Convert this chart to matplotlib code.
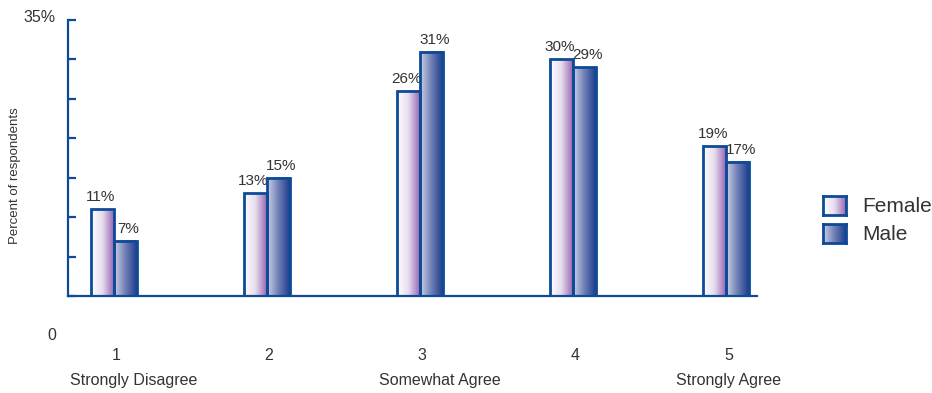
import numpy as np
import matplotlib.pyplot as plt
from matplotlib.colors import LinearSegmentedColormap

plt.rcParams['font.family'] = ['Liberation Sans', 'DejaVu Sans']

# survey responses, percent of respondents per answer
answers = [1, 2, 3, 4, 5]
answer_notes = {1: "Strongly Disagree", 3: "Somewhat Agree", 5: "Strongly Agree"}
female = [11, 13, 26, 30, 19]
male = [7, 15, 31, 29, 17]

navy = "#0d4a97"
text_col = "#333333"
female_cmap = LinearSegmentedColormap.from_list("fem", ["#ffffff", "#e6dcee", "#9866b2"])
male_cmap = LinearSegmentedColormap.from_list("mal", ["#cfd3e6", "#6f7fb5", "#1d3c8c"])
ramp = np.linspace(0, 1, 256).reshape(1, -1)

W, H = 932, 393
fig = plt.figure(figsize=(W / 100, H / 100), dpi=100)
ax = fig.add_axes([68 / W, 1 - 296 / H, (757 - 68) / W, (296 - 20) / H])

bar_w = 0.15


def gradient_bars(xs, heights, cmap, nudge):
    for x, h in zip(xs, heights):
        ax.imshow(ramp, cmap=cmap, aspect="auto", zorder=2,
                  extent=(x - bar_w / 2, x + bar_w / 2, 0, h))
        ax.bar(x, h, width=bar_w, facecolor="none", edgecolor=navy,
               linewidth=2, zorder=3)
        ax.annotate(f"{h}%", (x, h), xytext=(nudge, 5), textcoords="offset pixels",
                    ha="center", va="bottom", fontsize=11, color=text_col)


x = np.array(answers, dtype=float)
gradient_bars(x - bar_w / 2, female, female_cmap, -2)
gradient_bars(x + bar_w / 2, male, male_cmap, 3)
ax.set_xlim(0.7, 5.2)
ax.set_ylim(0, 35)

for side in ["top", "right"]:
    ax.spines[side].set_visible(False)
for side in ["left", "bottom"]:
    ax.spines[side].set_color(navy)
    ax.spines[side].set_linewidth(1.6)

ax.set_yticks(range(0, 36, 5))
ax.set_yticklabels([])
ax.tick_params(axis="y", direction="in", length=6, width=1.6, color=navy)
ax.set_xticks([])

# y end labels
ax.annotate("35%", (0, 35), xycoords=("axes fraction", "data"), xytext=(-12, 3),
            textcoords="offset pixels", ha="right", va="center", fontsize=11.5, color=text_col)
ax.annotate("0", (0, 0), xycoords=("axes fraction", "data"), xytext=(-12, -40),
            textcoords="offset pixels", ha="right", va="center", fontsize=11.5, color=text_col)

# answer numbers and scale descriptors under the axis
note_shift = {1: 20, 3: 20, 5: 2}
for a in answers:
    ax.annotate(str(a), (a, 0), xytext=(2, -60), textcoords="offset pixels",
                ha="center", va="center", fontsize=11.5, color=text_col)
    if a in answer_notes:
        ax.annotate(answer_notes[a], (a, 0), xytext=(note_shift[a], -85),
                    textcoords="offset pixels", ha="center", va="center",
                    fontsize=11.5, color=text_col)

fig.text(15 / W, 1 - 176 / H, "Percent of respondents", rotation=90,
         ha="center", va="center", fontsize=9.5, color=text_col)

# legend with gradient swatches
for (label, cmap), top in zip([("Female", female_cmap), ("Male", male_cmap)], [196, 224]):
    sw = fig.add_axes([823 / W, 1 - (top + 19) / H, 23 / W, 19 / H])
    sw.imshow(ramp, cmap=cmap, aspect="auto")
    sw.set_xticks([])
    sw.set_yticks([])
    for s in sw.spines.values():
        s.set_color(navy)
        s.set_linewidth(2)
    fig.text(862 / W, 1 - (top + 11) / H, label, ha="left", va="center",
             fontsize=15, color=text_col)

fig.savefig("out.png", dpi=100)
